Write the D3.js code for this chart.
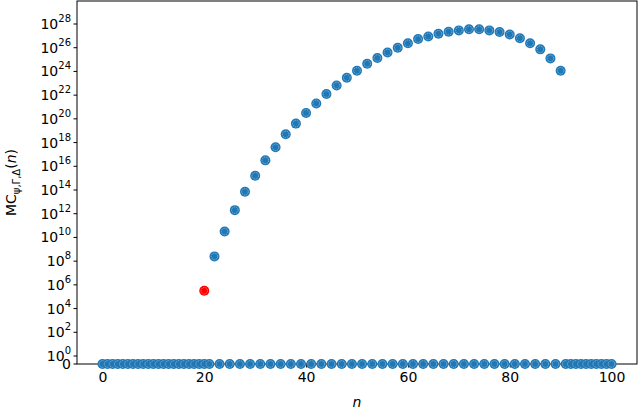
<!DOCTYPE html>
<html><head><meta charset="utf-8">
<script src="https://cdn.jsdelivr.net/npm/d3@7"></script>
<style>body{margin:0;background:#fff}svg{font-family:"DejaVu Sans",sans-serif}</style>
</head><body><svg id="c" width="640" height="412"></svg>
<script>
// log10 of non-zero values at even n = 22..90
const evenN = d3.range(22, 91, 2);
const logVals = [8.4,10.5,12.3,13.85,15.2,16.5,17.6,18.7,19.6,20.5,21.3,22.09,22.82,23.47,24.06,24.65,25.13,25.6,26.0,26.37,26.73,26.95,27.18,27.35,27.46,27.55,27.55,27.46,27.32,27.12,26.8,26.37,25.86,25.1,24.06];
const redPoint = {n:20, log:5.5};
const allN = d3.range(0, 101);
const xTicks = [0,20,40,60,80,100];
const yExp = d3.range(0, 29, 2);

const data = allN.map(n => {
  const i = evenN.indexOf(n);
  return {n, log: i>=0 ? logVals[i] : null};
});

const svg = d3.select("#c");
const L=77, R=637, T=1, B=364;
const x = d3.scaleLinear().domain([-5,105]).range([L,R]);
const yLog = d3.scaleLinear().domain([0,28]).range([356,24]);
const ypos = l => l===null ? B : yLog(l);

svg.append("rect").attr("x",L).attr("y",T).attr("width",R-L).attr("height",B-T)
  .attr("fill","none").attr("stroke","#000").attr("stroke-width",1);

const xa = svg.append("g").attr("transform",`translate(0,${B})`)
  .call(d3.axisBottom(x).tickValues(xTicks).tickSize(3.5).tickPadding(5));
xa.select(".domain").remove();
xa.selectAll("text").attr("font-size",14).attr("fill","#000").attr("font-family","DejaVu Sans");

const ya = svg.append("g");
yExp.forEach(e => {
  const yy = yLog(e);
  ya.append("line").attr("x1",L-3.5).attr("x2",L).attr("y1",yy).attr("y2",yy).attr("stroke","#000");
  const t = ya.append("text").attr("x",L-6).attr("y",yy+5).attr("text-anchor","end").attr("font-size",14);
  t.append("tspan").text("10");
  t.append("tspan").attr("dy",-7).attr("font-size",10).text(e);
});
ya.append("line").attr("x1",L-3.5).attr("x2",L).attr("y1",B).attr("y2",B).attr("stroke","#000");
ya.append("text").attr("x",L-6).attr("y",B+5).attr("text-anchor","end").attr("font-size",14).text("0");

function marker(g, cx, cy, col, ring){
  g.append("circle").attr("cx",cx).attr("cy",cy).attr("r",5).attr("fill",col);
  g.append("circle").attr("cx",cx).attr("cy",cy).attr("r",3.3).attr("fill","none")
    .attr("stroke",ring).attr("stroke-width",0.8).attr("stroke-dasharray","1.5,0.8");
}
const mg = svg.append("g");
data.forEach(d => marker(mg, x(d.n), ypos(d.log), "#1f77b4", "#8fbbe0"));
marker(mg, x(redPoint.n), ypos(redPoint.log), "#ff0000", "#ff8080");

svg.append("text").attr("x",(L+R)/2).attr("y",407).attr("text-anchor","middle")
  .attr("font-size",14).attr("font-style","italic").text("n");
const yl = svg.append("text").attr("transform",`translate(16,${(T+B)/2}) rotate(-90)`)
  .attr("text-anchor","middle").attr("font-size",14);
yl.append("tspan").text("MC");
yl.append("tspan").attr("dy",4).attr("font-size",10).text("ψ,Γ,Δ");
yl.append("tspan").attr("dy",-4).text("(");
yl.append("tspan").attr("font-style","italic").text("n");
yl.append("tspan").text(")");
</script></body></html>
